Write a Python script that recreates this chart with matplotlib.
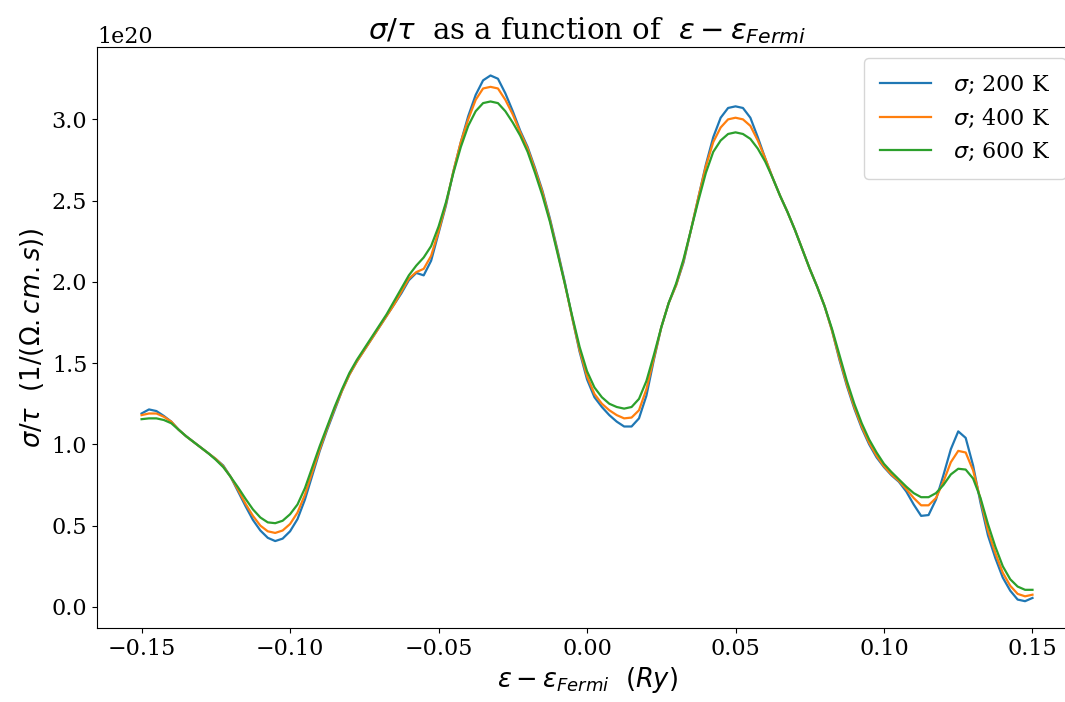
import matplotlib
matplotlib.use("Agg")
import matplotlib.pyplot as plt
import numpy as np

plt.rcParams['font.family'] = 'DejaVu Serif'
plt.rcParams['font.size'] = 16

# --------------------
# sigma/tau vs energy, in units of 1e20 1/(Ohm.cm.s)
# energy grid: -0.15 .. 0.15 Ry, step 0.0025
# --------------------
energy = np.linspace(-0.15, 0.15, 121)

sigma_200 = [
    1.19, 1.215, 1.205, 1.175, 1.14, 1.09, 1.05, 1.015, 0.98, 0.945,
    0.91, 0.87, 0.80, 0.71, 0.62, 0.535, 0.47, 0.425, 0.405, 0.42,
    0.465, 0.54, 0.66, 0.81, 0.96, 1.09, 1.21, 1.33, 1.43, 1.51,
    1.58, 1.65, 1.72, 1.79, 1.86, 1.93, 2.01, 2.055, 2.04, 2.13,
    2.30, 2.47, 2.68, 2.86, 3.02, 3.15, 3.24, 3.27, 3.25, 3.16,
    3.05, 2.93, 2.83, 2.70, 2.56, 2.39, 2.20, 2.00, 1.78, 1.57,
    1.40, 1.29, 1.23, 1.18, 1.14, 1.11, 1.11, 1.16, 1.30, 1.52,
    1.72, 1.87, 1.98, 2.12, 2.32, 2.52, 2.72, 2.89, 3.01, 3.07,
    3.08, 3.07, 3.01, 2.89, 2.76, 2.64, 2.53, 2.43, 2.32, 2.20,
    2.08, 1.97, 1.85, 1.70, 1.52, 1.36, 1.22, 1.10, 1.00, 0.92,
    0.86, 0.81, 0.77, 0.71, 0.63, 0.56, 0.565, 0.66, 0.81, 0.97,
    1.08, 1.04, 0.87, 0.64, 0.44, 0.30, 0.18, 0.10, 0.045, 0.035,
    0.055,
]

sigma_400 = [
    1.18, 1.19, 1.19, 1.17, 1.14, 1.09, 1.05, 1.015, 0.98, 0.945,
    0.91, 0.865, 0.80, 0.72, 0.635, 0.56, 0.50, 0.465, 0.455, 0.47,
    0.51, 0.58, 0.69, 0.83, 0.97, 1.10, 1.22, 1.33, 1.43, 1.51,
    1.58, 1.65, 1.72, 1.79, 1.86, 1.94, 2.02, 2.06, 2.08, 2.16,
    2.31, 2.48, 2.68, 2.86, 3.00, 3.12, 3.19, 3.20, 3.19, 3.12,
    3.03, 2.92, 2.82, 2.69, 2.55, 2.38, 2.19, 1.99, 1.78, 1.58,
    1.42, 1.31, 1.25, 1.21, 1.18, 1.16, 1.165, 1.21, 1.34, 1.53,
    1.72, 1.87, 1.98, 2.13, 2.32, 2.52, 2.71, 2.86, 2.95, 3.00,
    3.01, 3.00, 2.96, 2.87, 2.76, 2.64, 2.53, 2.43, 2.32, 2.20,
    2.08, 1.97, 1.85, 1.70, 1.53, 1.37, 1.23, 1.11, 1.01, 0.93,
    0.865, 0.815, 0.775, 0.725, 0.67, 0.625, 0.625, 0.67, 0.77, 0.89,
    0.96, 0.95, 0.84, 0.66, 0.47, 0.33, 0.21, 0.13, 0.08, 0.065,
    0.075,
]

sigma_600 = [
    1.155, 1.16, 1.16, 1.15, 1.13, 1.09, 1.05, 1.015, 0.98, 0.945,
    0.905, 0.86, 0.80, 0.735, 0.665, 0.60, 0.55, 0.52, 0.515, 0.53,
    0.57, 0.63, 0.73, 0.86, 0.99, 1.11, 1.23, 1.34, 1.44, 1.52,
    1.59, 1.66, 1.73, 1.80, 1.88, 1.96, 2.04, 2.10, 2.15, 2.22,
    2.34, 2.49, 2.67, 2.83, 2.96, 3.05, 3.10, 3.11, 3.10, 3.05,
    2.98, 2.90, 2.80, 2.67, 2.53, 2.37, 2.18, 1.99, 1.79, 1.60,
    1.45, 1.35, 1.29, 1.25, 1.23, 1.22, 1.23, 1.28, 1.39, 1.55,
    1.72, 1.87, 1.99, 2.14, 2.32, 2.50, 2.67, 2.80, 2.87, 2.91,
    2.92, 2.91, 2.88, 2.82, 2.74, 2.64, 2.53, 2.43, 2.32, 2.20,
    2.08, 1.97, 1.85, 1.71, 1.55, 1.39, 1.25, 1.13, 1.03, 0.95,
    0.88, 0.83, 0.785, 0.74, 0.70, 0.675, 0.675, 0.70, 0.75, 0.815,
    0.85, 0.845, 0.79, 0.67, 0.51, 0.37, 0.25, 0.17, 0.125, 0.105,
    0.105,
]

temps = [200, 400, 600]
scale = 1e20

# --------------------
# Plot
# --------------------
fig = plt.figure(figsize=(10.65, 7.02), dpi=100)
ax = fig.add_axes([0.0911, 0.1054, 0.9202, 0.8276])

for T, s in zip(temps, [sigma_200, sigma_400, sigma_600]):
    ax.plot(energy, np.array(s) * scale, lw=1.6, label=rf'$\sigma$; {T} K')

ax.set_xlim(-0.165, 0.165)
ax.set_ylim(-0.13e20, 3.445e20)
ax.set_xticks([-0.15, -0.10, -0.05, 0.00, 0.05, 0.10, 0.15])

ax.set_title(r'$\sigma/\tau$  as a function of  $\varepsilon-\varepsilon_{Fermi}$',
             fontsize=21)
ax.set_xlabel(r'$\varepsilon-\varepsilon_{Fermi}$  $(Ry)$', fontsize=18.5)
ax.set_ylabel(r'$\sigma/\tau$  $(1/(\Omega.cm.s))$', fontsize=18.5)

ax.legend(loc='upper right', borderpad=0.7, handlelength=2.3,
          handletextpad=1.0)

fig.savefig('out.png', dpi=100)
